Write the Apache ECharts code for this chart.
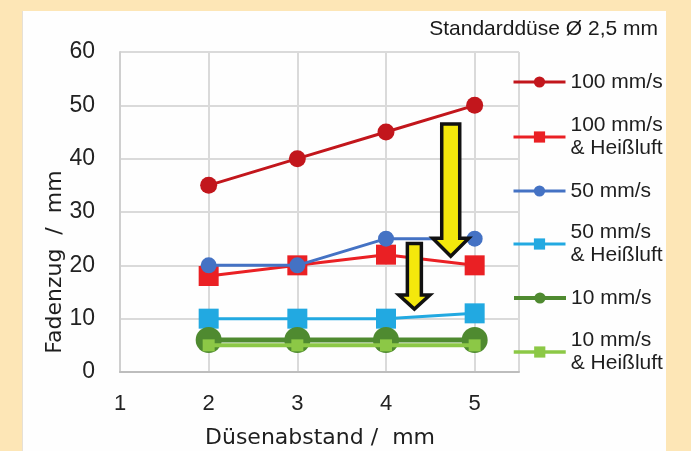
<!DOCTYPE html>
<html><head><meta charset="utf-8">
<script src="https://cdn.jsdelivr.net/npm/echarts@6/dist/echarts.min.js"></script>
<style>
html,body{margin:0;padding:0;background:#fde6b6;overflow:hidden;}
#panel{position:absolute;left:22px;top:11px;width:643px;height:460px;background:#fefefe;border-left:1px solid #e6e0d6;}
#c{position:absolute;left:0;top:0;width:691px;height:451px;}
</style>
</head><body><div id="panel"></div><div id="c"></div>
<script>
// ---- data ----
const xValues = [2, 3, 4, 5];
const seriesNames = ['100 mm/s', '100 mm/s & Heißluft', '50 mm/s', '50 mm/s & Heißluft', '10 mm/s', '10 mm/s & Heißluft'];
const v100 = [35, 40, 45, 50];
const v100H = [18, 20, 22, 20];
const v50 = [20, 20, 25, 25];
const v50H = [10, 10, 10, 11];
const v10 = [6, 6, 6, 6];
const v10H = [5, 5, 5, 5];
const yTicks = [0, 10, 20, 30, 40, 50, 60];
const xTicks = [1, 2, 3, 4, 5];
const titleText = 'Standarddüse Ø 2,5 mm';
const xName = 'Düsenabstand /  mm';
const yName = 'Fadenzug  /  mm';
// annotation arrows in data coordinates: [x, top, tip]
const arrowBig = [4.73, 46.5, 21.7];
const arrowSmall = [4.32, 24.1, 11.8];

// ---- styles ----
const values = [v100, v100H, v50, v50H, v10, v10H];
const colors = ['#c2161c', '#ea2024', '#4472c4', '#22a9e1', '#4f8a30', '#8cc846'];
const symbols = ['circle', 'rect', 'circle', 'rect', 'circle', 'rect'];
const symSizes = [17, 20, 16, 20, 26, 12];
const lineWidths = [3, 3, 3, 3, 5, 4];
const legendLineWidths = [3, 3, 3, 3, 4, 3.5];
const legendCY = [82, 137, 191, 244, 298, 352];

const chart = echarts.init(document.getElementById('c'), null, {renderer: 'canvas'});
const FONT = 'Liberation Sans, Arial, sans-serif';

const series = seriesNames.map((n, i) => ({
  name: n,
  type: 'line',
  data: xValues.map((x, j) => [x, values[i][j]]),
  symbol: symbols[i],
  symbolSize: symSizes[i],
  showSymbol: true,
  lineStyle: {color: colors[i], width: lineWidths[i]},
  itemStyle: {color: colors[i]},
  emphasis: {disabled: true},
  animation: false,
  z: 2 + i
}));

const legends = seriesNames.map((n, i) => {
  const two = n.indexOf(' & ') >= 0;
  return {
    data: [n],
    left: 512,
    top: two ? legendCY[i] - 34.5 : legendCY[i] - 11.5,
    padding: 0,
    itemWidth: 52,
    itemHeight: 14,
    selectedMode: false,
    lineStyle: {width: legendLineWidths[i], color: colors[i]},
    formatter: (name) => name.replace(' & ', '\n& '),
    textStyle: {
      fontFamily: FONT, fontSize: 21, lineHeight: 23, color: '#1e1e1e',
      padding: two ? [23, 0, 0, 0] : 0
    }
  };
});

chart.setOption({
  backgroundColor: 'transparent',
  animation: false,
  title: {
    text: titleText, right: 33, top: 19, padding: 0,
    textStyle: {fontFamily: FONT, fontSize: 21, fontWeight: 'normal', color: '#1a1a1a'}
  },
  legend: legends,
  grid: {left: 120, right: 172, top: 52, bottom: 79, containLabel: false},
  xAxis: {
    type: 'value', min: 1, max: 5.5, interval: 1,
    axisLine: {show: true, onZero: false, lineStyle: {color: '#bdbdbd', width: 2}},
    axisTick: {show: false},
    splitLine: {show: true, lineStyle: {color: '#dadada', width: 2}},
    axisLabel: {
      margin: 21, fontFamily: FONT, fontSize: 22, color: '#222',
      formatter: (v) => xTicks.indexOf(v) >= 0 ? String(v) : ''
    }
  },
  yAxis: {
    type: 'value', min: 0, max: 60, interval: 10,
    axisLine: {show: true, lineStyle: {color: '#cfcfcf', width: 2}},
    axisTick: {show: false},
    splitLine: {show: true, lineStyle: {color: '#dadada', width: 2}},
    axisLabel: {
      margin: 25, fontFamily: FONT, fontSize: 23, color: '#222',
      formatter: (v) => yTicks.indexOf(v) >= 0 ? String(v) : ''
    }
  },
  series: series
});

function arrowShape(a, sw, hw, hh) {
  const p1 = chart.convertToPixel({gridIndex: 0}, [a[0], a[1]]);
  const p2 = chart.convertToPixel({gridIndex: 0}, [a[0], a[2]]);
  const cx = p1[0], ty = p1[1], tip = p2[1];
  return [[cx - sw, ty], [cx + sw, ty], [cx + sw, tip - hh], [cx + hw, tip - hh], [cx, tip], [cx - hw, tip - hh], [cx - sw, tip - hh]];
}

chart.setOption({
  graphic: [
    {type: 'polygon', z: 100, shape: {points: arrowShape(arrowBig, 9, 18, 18)},
     style: {fill: '#f4e80c', stroke: '#111', lineWidth: 3.5, lineJoin: 'miter'}},
    {type: 'polygon', z: 100, shape: {points: arrowShape(arrowSmall, 7, 15.5, 14)},
     style: {fill: '#f4e80c', stroke: '#111', lineWidth: 3.5, lineJoin: 'miter'}},
    {type: 'text', z: 100, x: 55, y: 262, rotation: Math.PI / 2,
     style: {text: yName, fontFamily: 'DejaVu Sans', fontSize: 22, fill: '#1e1e1e', align: 'center', verticalAlign: 'middle'}},
    {type: 'text', z: 100, x: 320, y: 438,
     style: {text: xName, fontFamily: 'DejaVu Sans', fontSize: 22, fill: '#1e1e1e', align: 'center', verticalAlign: 'middle'}}
  ]
});
</script>
</body></html>
